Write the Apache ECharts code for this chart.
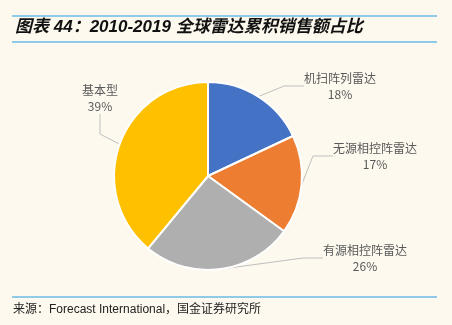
<!DOCTYPE html>
<html>
<head>
<meta charset="utf-8">
<style>
  html, body { margin: 0; padding: 0; background: #FDF9EE; }
  #chart { width: 452px; height: 325px; }
</style>
<script src="https://cdn.jsdelivr.net/npm/echarts@6/dist/echarts.min.js"></script>
</head>
<body>
<div id="chart"></div>
<script>
// Global radar cumulative sales share, 2010-2019
const categories = ['机扫阵列雷达', '无源相控阵雷达', '有源相控阵雷达', '基本型'];
const shares = [18, 17, 26, 39];
const colors = ['#4472C4', '#ED7D31', '#AFAFAF', '#FFC000'];

// label anchor positions (centre of label text block)
const labelSpots = [
  [340, 86],
  [375, 156],
  [365, 258],
  [100, 98]
];

const chart = echarts.init(document.getElementById('chart'), null, { renderer: 'canvas' });

const ruleColor = '#8FCBE8';
const cjk = '"Noto Sans CJK SC", sans-serif';

chart.setOption({
  backgroundColor: '#FDF9EE',
  animation: false,
  graphic: [
    { type: 'rect', shape: { x: 12, y: 15, width: 425, height: 2 }, style: { fill: ruleColor } },
    { type: 'rect', shape: { x: 12, y: 41, width: 425, height: 2 }, style: { fill: ruleColor } },
    { type: 'rect', shape: { x: 12, y: 296, width: 425, height: 2 }, style: { fill: ruleColor } },
    {
      type: 'text', left: 15, top: 19,
      style: {
        text: '图表 44：2010-2019 全球雷达累积销售额占比',
        font: 'italic bold 17px "Liberation Sans", "Noto Sans CJK SC", sans-serif',
        fill: '#111'
      }
    },
    {
      type: 'text', left: 13, top: 304,
      style: {
        text: '来源：Forecast International，国金证券研究所',
        font: '12px "Liberation Sans", "Noto Sans CJK SC", sans-serif',
        fill: '#222'
      }
    }
  ],
  series: [{
    type: 'pie',
    center: [208, 176],
    radius: [0, 94],
    startAngle: 90,
    clockwise: true,
    data: categories.map((name, i) => ({
      name,
      value: shares[i],
      itemStyle: { color: colors[i] }
    })),
    itemStyle: { borderColor: '#FFFFFF', borderWidth: 2 },
    label: {
      show: true,
      position: 'outside',
      formatter: p => p.name + '\n' + p.value + '%',
      color: '#595959',
      fontSize: 12,
      fontFamily: cjk,
      lineHeight: 16,
      align: 'center'
    },
    labelLine: {
      show: true,
      length: 12,
      length2: 20,
      lineStyle: { color: '#BFBFBF', width: 1 }
    },
    labelLayout: params => {
      const spot = labelSpots[params.dataIndex];
      return {
        x: spot[0],
        y: spot[1],
        align: 'center',
        verticalAlign: 'middle'
      };
    }
  }]
});
</script>
</body>
</html>
